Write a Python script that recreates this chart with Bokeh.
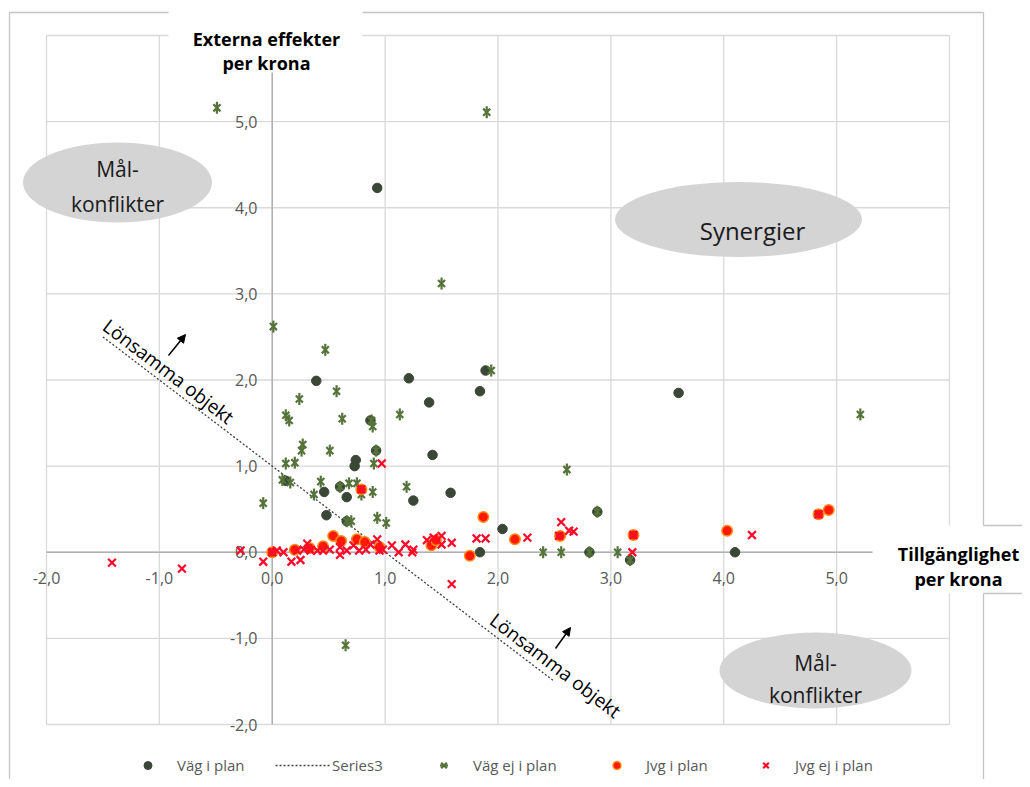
import math
from bokeh.plotting import figure
from bokeh.models import Legend, LegendItem, Arrow, NormalHead
from bokeh.core.properties import value
from bokeh.embed import file_html
from bokeh.resources import INLINE

# ---------------- data ----------------
vag_i_plan_x = [0.93, 0.39, 1.21, 1.89, 1.84, 1.39, 3.60, 0.87, 0.92, 1.42, 0.74, 0.73, 0.12, 0.46,
                0.60, 0.66, 1.25, 1.58, 0.48, 0.66, 2.04, 2.88, 1.84, 2.81, 3.17, 4.10]
vag_i_plan_y = [4.23, 1.99, 2.02, 2.11, 1.87, 1.74, 1.85, 1.53, 1.18, 1.13, 1.07, 1.00, 0.83, 0.70,
                0.76, 0.64, 0.60, 0.69, 0.43, 0.36, 0.27, 0.47, 0.00, 0.00, -0.09, 0.00]

vag_ej_x = [-0.49, 1.90, 1.50, 0.01, 0.47, 5.21, 1.94, 0.24, 0.57, 0.12, 0.15, 0.62, 0.88, 0.89,
            1.13, 0.27, 0.26, 0.51, 0.92, 0.12, 0.20, 0.90, 2.61, 0.09, 0.16, 0.43, 0.37, 0.60,
            0.68, 0.75, 0.79, 0.89, 1.19, -0.08, 0.66, 0.70, 0.93, 1.01, 2.88, 2.40, 2.56, 2.81,
            3.06, 3.17, 0.65]
vag_ej_y = [5.16, 5.11, 3.12, 2.62, 2.35, 1.60, 2.11, 1.78, 1.87, 1.59, 1.53, 1.55, 1.53, 1.46,
            1.60, 1.25, 1.18, 1.18, 1.18, 1.03, 1.04, 1.03, 0.96, 0.84, 0.81, 0.82, 0.67, 0.76,
            0.80, 0.80, 0.67, 0.70, 0.76, 0.57, 0.36, 0.36, 0.40, 0.34, 0.47, 0.00, 0.00, 0.00,
            0.00, -0.09, -1.08]

jvg_i_plan_x = [0.00, 0.20, 0.33, 0.45, 0.54, 0.61, 0.75, 0.82, 0.79, 0.95, 1.41, 1.45, 1.87, 1.75,
                2.15, 2.55, 3.20, 4.03, 4.84, 4.93]
jvg_i_plan_y = [0.00, 0.03, 0.05, 0.07, 0.19, 0.13, 0.15, 0.12, 0.73, 0.06, 0.08, 0.14, 0.41, -0.04,
                0.15, 0.19, 0.20, 0.25, 0.44, 0.49]

jvg_ej_x = [-1.42, -0.80, -0.28, -0.08, 0.00, 0.04, 0.10, 0.17, 0.25, 0.22, 0.28, 0.31, 0.34, 0.40,
            0.45, 0.51, 0.60, 0.60, 0.66, 0.72, 0.77, 0.83, 0.87, 0.93, 0.95, 0.98, 1.06, 1.12,
            1.18, 1.24, 1.25, 1.37, 1.43, 1.50, 1.50, 1.59, 0.97, 0.79, 1.59, 1.81, 1.89, 2.26,
            2.56, 2.54, 2.63, 2.67, 3.19, 3.20, 4.25, 4.84]
jvg_ej_y = [-0.12, -0.19, 0.02, -0.11, 0.00, 0.02, 0.00, -0.11, -0.09, 0.02, 0.03, 0.10, 0.02, 0.02,
            0.02, 0.03, 0.06, -0.03, 0.02, 0.08, 0.02, 0.03, 0.09, 0.15, 0.02, 0.03, 0.08, 0.00,
            0.09, 0.00, 0.03, 0.14, 0.17, 0.19, 0.09, 0.11, 1.03, 0.73, -0.37, 0.16, 0.16, 0.17,
            0.35, 0.19, 0.25, 0.24, 0.00, 0.20, 0.20, 0.44]

series3_x = [-1.5, 2.5]
series3_y = [2.5, -1.5]

grid_vals = [-2, -1, 0, 1, 2, 3, 4, 5, 6]
x_tick_vals = [-2, -1, 0, 1, 2, 3, 4, 5]
x_tick_labels = ["-2,0", "-1,0", "0,0", "1,0", "2,0", "3,0", "4,0", "5,0"]
y_tick_vals = [5, 4, 3, 2, 1, 0, -1, -2]
y_tick_labels = ["5,0", "4,0", "3,0", "2,0", "1,0", "0,0", "-1,0", "-2,0"]

legend_labels = ["Väg i plan", "Series3", "Väg ej i plan", "Jvg i plan", "Jvg ej i plan"]

# ---------------- layout (reference pixels -> data) ----------------
W, H = 1022, 779
PAGE = 0
XL, XR = 46.0, 949.0      # pixel of x=-2 and x=6
YT, YB = 35.0, 724.0      # pixel of y=6 and y=-2
SX = (XR - XL) / 8.0
SY = (YB - YT) / 8.0


def dx(px):
    return -2 + (px - XL) / SX


def dy(py):
    return 6 - (py - YT) / SY


p = figure(width=W, height=H, output_backend="svg", toolbar_location=None,
           x_range=(dx(PAGE), dx(PAGE + W)), y_range=(dy(PAGE + H), dy(PAGE)),
           x_axis_location=None, y_axis_location=None, min_border=0,
           outline_line_color=None, background_fill_color="white", border_fill_color="white")
p.grid.visible = False

FONT = value("Open Sans")
GRID = "#d9d9d9"
FRAME = "#c4c4c4"

# gridlines
p.segment(x0=grid_vals, x1=grid_vals, y0=[-2] * 9, y1=[6] * 9, line_color=GRID, line_width=1.3)
p.segment(x0=[-2] * 9, x1=[6] * 9, y0=grid_vals, y1=grid_vals, line_color=GRID, line_width=1.3)
# axis lines
p.segment(x0=[-2, 0], x1=[6, 0], y0=[0, -2], y1=[0, 6], line_color="#b0b0b0", line_width=1.5)

# tick labels
p.text(x=x_tick_vals, y=[dy(577)] * len(x_tick_vals), text=x_tick_labels, text_font=FONT,
       text_font_size="16px", text_color="#595959", text_align="center", text_baseline="middle")
p.text(x=[dx(257)] * len(y_tick_vals), y=y_tick_vals, text=y_tick_labels, text_font=FONT,
       text_font_size="16px", text_color="#595959", text_align="right", text_baseline="middle")

# series
r_s3 = p.line(series3_x, series3_y, line_color="#404040", line_width=1.3, line_dash="2 2")
r_vip = p.scatter(vag_i_plan_x, vag_i_plan_y, marker="circle", size=9.5,
                  fill_color="#3a4636", line_color="#3a4636")
r_vej1 = p.scatter(vag_ej_x, vag_ej_y, marker="x", size=10, line_color="#55733a", line_width=2.2)
r_vej2 = p.scatter(vag_ej_x, vag_ej_y, marker="dash", angle=math.pi / 2, size=12,
                   line_color="#55733a", line_width=2.2)
r_jip = p.scatter(jvg_i_plan_x, jvg_i_plan_y, marker="circle", size=10.5,
                  fill_color="#ff1a00", line_color="#ff8a1a", line_width=1.5)
r_jej = p.scatter(jvg_ej_x, jvg_ej_y, marker="x", size=11, line_color="#ff0a2a", line_width=2.2)

# white boxes behind the axis titles
p.quad(left=[dx(168), dx(872)], right=[dx(362), dx(W + 5)],
       top=[dy(-5), dy(525)], bottom=[dy(72), dy(593)], fill_color="white", line_color=None)

# outer chart frame
fx0 = [dx(9), dx(362), dx(9), dx(983), dx(983), dx(983), dx(983)]
fx1 = [dx(168), dx(983), dx(9), dx(983), dx(983), dx(W + 5), dx(W + 5)]
fy0 = [dy(12), dy(12), dy(12), dy(12), dy(593), dy(525), dy(593)]
fy1 = [dy(12), dy(12), dy(H + 5), dy(525), dy(H + 5), dy(525), dy(593)]
p.segment(x0=fx0, x1=fx1, y0=fy0, y1=fy1, line_color=FRAME, line_width=1.3)

# axis titles
p.text(x=[dx(266), dx(266)], y=[dy(38), dy(62)], text=["Externa effekter", "per krona"],
       text_font=FONT, text_font_style="bold", text_font_size="18px", text_color="black",
       text_align="center", text_baseline="alphabetic")
p.text(x=[dx(958), dx(958)], y=[dy(553), dy(578)], text=["Tillgänglighet", "per krona"],
       text_font=FONT, text_font_style="bold", text_font_size="18px", text_color="black",
       text_align="center", text_baseline="alphabetic")

# ellipses with labels
p.ellipse(x=[dx(117), dx(738), dx(815)], y=[dy(182), dy(219), dy(670)],
          width=[189, 247, 192], height=[80, 75, 76], width_units="screen", height_units="screen",
          fill_color="#d4d4d4", line_color=None)
p.text(x=[dx(117), dx(117), dx(815), dx(815)], y=[dy(168), dy(203), dy(662), dy(694)],
       text=["Mål-", "konflikter", "Mål-", "konflikter"], text_font=FONT, text_font_size="21px",
       text_color="#1a1a1a", text_align="center", text_baseline="alphabetic")
p.text(x=[dx(752)], y=[dy(230)], text=["Synergier"], text_font=FONT, text_font_size="24px",
       text_color="#1a1a1a", text_align="center", text_baseline="alphabetic")

# "Lönsamma objekt" labels along the dotted line
ang = -math.atan(SY / SX)
p.text(x=[dx(168), dx(555)], y=[dy(371), dy(665)], text=["Lönsamma objekt", "Lönsamma objekt"],
       text_font=FONT, text_font_size="19px", text_color="black", angle=ang,
       text_align="center", text_baseline="middle")
for (x0, y0, x1, y1) in [(168, 355, 185, 334), (555, 648, 570, 627)]:
    p.add_layout(Arrow(end=NormalHead(size=8, fill_color="black", line_color="black"),
                       x_start=dx(x0), y_start=dy(y0), x_end=dx(x1), y_end=dy(y1),
                       line_color="black", line_width=1.5))

# legend (one Bokeh legend per entry so each sits where Excel put it)
LEG_Y = 765
legend_renderers = [[r_vip], [r_s3], [r_vej1, r_vej2], [r_jip], [r_jej]]
key_left = [120, 275, 416, 589, 738]
for lab, rends, kl in zip(legend_labels, legend_renderers, key_left):
    leg = Legend(items=[LegendItem(label=lab, renderers=rends)],
                 location=(kl - PAGE, H - (LEG_Y - PAGE) - 10), orientation="horizontal",
                 glyph_width=55, glyph_height=20, label_height=20, label_standoff=2,
                 padding=0, margin=0, border_line_alpha=0, background_fill_alpha=0,
                 label_text_font="Open Sans", label_text_font_size="15px",
                 label_text_color="#595959")
    p.add_layout(leg)

with open("out.html", "w", encoding="utf-8") as f:
    f.write(file_html(p, INLINE))
